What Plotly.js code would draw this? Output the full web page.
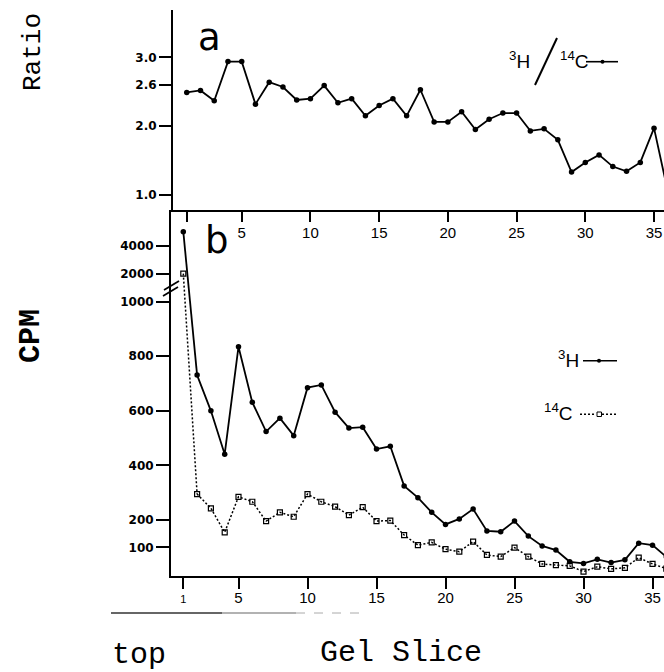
<!DOCTYPE html>
<html>
<head>
<meta charset="utf-8">
<script src="https://cdn.plot.ly/plotly-3.0.1.min.js"></script>
<style>
html,body{margin:0;padding:0;overflow:hidden;background:#fff;}
#chart{width:720px;height:672px;}
</style>
</head>
<body>
<div id="chart"></div>
<script>
// ---- data ----
const slices = [1,2,3,4,5,6,7,8,9,10,11,12,13,14,15,16,17,18,19,20,21,22,23,24,25,26,27,28,29,30,31,32,33,34,35,36];
const ratio = [2.49,2.52,2.37,2.94,2.94,2.32,2.64,2.57,2.38,2.40,2.59,2.34,2.40,2.15,2.30,2.40,2.15,2.53,2.06,2.06,2.21,1.95,2.10,2.19,2.19,1.93,1.96,1.80,1.33,1.47,1.58,1.41,1.34,1.47,1.97,1.05];
const cpmH3 = [5650,731,600,441,835,631,524,573,509,685,695,595,537,540,460,470,325,282,228,184,204,240,160,157,196,141,105,90,47,41,56,44,54,115,108,65];
const cpmC14 = [2000,295,243,155,285,267,196,228,212,295,267,249,218,247,196,198,145,108,118,93,84,121,72,66,99,66,39,35,32,11,29,21,25,62,39,22];

const ratioTicks = [1.0, 2.0, 2.6, 3.0];
const ratioTickText = ['1.0', '2.0', '2.6', '3.0'];
const cpmHighTicks = [2000, 4000];
const cpmLowTicks = [100, 200, 400, 600, 800, 1000];
const topSliceTicks = [5, 10, 15, 20, 25, 30, 35];
const topSliceMinor = [1];
const bottomSliceTicks = [1, 5, 10, 15, 20, 25, 30, 35];
const bottomSliceText = ['<span style="font-size:11px">1</span>', '5', '10', '15', '20', '25', '30', '35'];

// ---- layout helpers (pixel -> paper) ----
const W = 720, H = 672, L = 171;
const px = v => (v - L) / (W - L);
const py = v => 1 - v / H;

const black = '#000';
const tickFontY = {family: 'DejaVu Sans', size: 12, weight: 'bold', color: black};
const tickFontX = {family: 'Liberation Sans, Arial, sans-serif', size: 15, color: black};

const axisBase = {showgrid: false, zeroline: false, showline: true, linecolor: black, linewidth: 2,
                  ticks: 'outside', tickcolor: black, tickwidth: 2};

const layout = {
  width: W, height: H,
  margin: {l: L, r: 0, t: 0, b: 0},
  paper_bgcolor: '#fff', plot_bgcolor: 'rgba(0,0,0,0)',
  showlegend: false,
  xaxis: Object.assign({}, axisBase, {domain: [px(173), 1], range: [0.0, 39.8], anchor: 'y',
    tickmode: 'array', tickvals: topSliceTicks, ticklen: 10, tickfont: tickFontX, ticklabelstandoff: -2,
    minor: {tickmode: 'array', tickvals: topSliceMinor, ticks: 'outside', ticklen: 10, tickwidth: 2, tickcolor: black, showgrid: false}}),
  yaxis: Object.assign({}, axisBase, {domain: [py(210), py(10)], range: [0.777, 3.692], anchor: 'x',
    tickmode: 'array', tickvals: ratioTicks, ticktext: ratioTickText, ticklen: 12, tickfont: tickFontY}),
  xaxis2: Object.assign({}, axisBase, {domain: [0, 1], range: [0.109, 39.89], anchor: 'y3',
    tickmode: 'array', tickvals: bottomSliceTicks, ticktext: bottomSliceText, ticklen: 11, tickfont: tickFontX, ticklabelstandoff: -4}),
  yaxis2: Object.assign({}, axisBase, {domain: [py(288), py(210)], type: 'log', range: [3.147, 3.985], anchor: 'x2',
    tickmode: 'array', tickvals: cpmHighTicks, ticktext: cpmHighTicks.map(String), ticklen: 13, tickfont: tickFontY}),
  yaxis3: Object.assign({}, axisBase, {domain: [py(576), py(288)], range: [-5.1, 1050], anchor: 'x2',
    tickmode: 'array', tickvals: cpmLowTicks, ticktext: cpmLowTicks.map(String), ticklen: 13, tickfont: tickFontY}),
  annotations: [],
  shapes: []
};

// Bridge axes: a hidden linear axis spanning the broken CPM axis, so the segment that crosses
// the break (slice 1 -> slice 2) is a straight line between the two library-placed points.
function fracOf(axis, v) {
  const d = axis.domain, r = axis.range;
  const t = axis.type === 'log' ? Math.log10(v) : v;
  return d[0] + (t - r[0]) / (r[1] - r[0]) * (d[1] - d[0]);
}
function bridgeAxis(a, b) {
  const fa = fracOf(layout.yaxis2, a), fb = fracOf(layout.yaxis3, b);
  const s = (a - b) / (fa - fb);
  const d = [layout.yaxis3.domain[0], layout.yaxis2.domain[1]];
  const lo = b - (fb - d[0]) * s;
  const hi = lo + (d[1] - d[0]) * s;
  return {domain: d, range: [lo, hi], anchor: 'x2', visible: false, showgrid: false, zeroline: false};
}
layout.yaxis4 = bridgeAxis(cpmH3[0], cpmH3[1]);
layout.yaxis5 = bridgeAxis(cpmC14[0], cpmC14[1]);

const hLine = {color: black, width: 1.8};
const hMarker = {symbol: 'circle', size: 5.5, color: black};
const cLine = {color: black, width: 1.5, dash: '2px,2px'};
const cMarker = {symbol: 'square-open', size: 5, color: black, line: {width: 1.2, color: black}};

const traces = [
  {x: slices, y: ratio, xaxis: 'x', yaxis: 'y', mode: 'lines+markers', line: hLine, marker: hMarker, name: '3H/14C'},
  // 3H
  {x: slices.slice(0, 2), y: cpmH3.slice(0, 2), xaxis: 'x2', yaxis: 'y4', mode: 'lines', line: hLine, name: '3H', hoverinfo: 'skip'},
  {x: slices.slice(0, 1), y: cpmH3.slice(0, 1), xaxis: 'x2', yaxis: 'y2', mode: 'markers', marker: hMarker, name: '3H'},
  {x: slices.slice(1), y: cpmH3.slice(1), xaxis: 'x2', yaxis: 'y3', mode: 'lines+markers', line: hLine, marker: hMarker, name: '3H'},
  // 14C
  {x: slices.slice(0, 2), y: cpmC14.slice(0, 2), xaxis: 'x2', yaxis: 'y5', mode: 'lines', line: cLine, name: '14C', hoverinfo: 'skip'},
  {x: slices.slice(0, 1), y: cpmC14.slice(0, 1), xaxis: 'x2', yaxis: 'y2', mode: 'markers', marker: cMarker, name: '14C'},
  {x: slices.slice(1), y: cpmC14.slice(1), xaxis: 'x2', yaxis: 'y3', mode: 'lines+markers', line: cLine, marker: cMarker, name: '14C'}
];

function ann(text, x, y, font, extra) {
  layout.annotations.push(Object.assign({text: text, x: px(x), y: py(y), xref: 'paper', yref: 'paper',
    showarrow: false, xanchor: 'center', yanchor: 'middle', font: font}, extra || {}));
}
const mono = {family: 'Liberation Mono, Courier New, monospace', size: 26, color: black};
ann('Ratio', 33, 52, mono, {textangle: -90});
ann('CPM', 31, 336, Object.assign({}, mono, {size: 30, weight: 'bold'}), {textangle: -90});
ann('top', 139, 655, Object.assign({}, mono, {size: 30}));
ann('Gel Slice', 401, 653, Object.assign({}, mono, {size: 30}));
const panelFont = {family: 'DejaVu Sans, sans-serif', size: 37, color: black};
ann('a', 209, 37, panelFont);
ann('b', 217, 240, panelFont);

// legend texts
const legFont = {family: 'Liberation Sans, Arial, sans-serif', size: 19, color: black};
ann('<sup>3</sup>H', 532, 60, legFont, {xanchor: 'right'});
ann('<sup>14</sup>C', 558, 60, legFont, {xanchor: 'left'});
ann('<sup>3</sup>H', 581, 359, legFont, {xanchor: 'right'});
ann('<sup>14</sup>C', 575, 412, legFont, {xanchor: 'right'});

// legend sample lines
function seg(x0, y0, x1, y1, w, dash, color) {
  layout.shapes.push({type: 'line', xref: 'paper', yref: 'paper', x0: px(x0), y0: py(y0), x1: px(x1), y1: py(y1),
    line: {color: color || black, width: w, dash: dash || 'solid'}});
}
seg(535, 85, 557, 38, 2);  // big slash of 3H/14C
seg(586, 61.7, 618, 61.7, 1.6);
layout.shapes.push({type: 'circle', xref: 'paper', yref: 'paper', x0: px(600.5), x1: px(604.5), y0: py(63.7), y1: py(59.7), fillcolor: black, line: {width: 0}});
seg(583, 360.7, 617, 360.7, 1.6);
layout.shapes.push({type: 'circle', xref: 'paper', yref: 'paper', x0: px(597), x1: px(601), y0: py(362.7), y1: py(358.7), fillcolor: black, line: {width: 0}});
seg(580, 414.3, 596, 414.3, 1.4, '2px,2px');
seg(602, 414.3, 618, 414.3, 1.4, '2px,2px');
layout.shapes.push({type: 'rect', xref: 'paper', yref: 'paper', x0: px(597), x1: px(601.5), y0: py(416.5), y1: py(412), fillcolor: 'rgba(0,0,0,0)', line: {width: 1, color: black}});

// axis break marks
seg(163, 296, 178, 287, 1.8);
seg(164, 290, 179, 281, 1.8);

// faint rule under the bottom axis
seg(111, 613, 222, 613, 1.4, 'solid', '#333');
seg(222, 613, 296, 613, 1.2, 'solid', '#666');
seg(296, 613, 365, 613, 1, 'dash', '#aaa');

Plotly.newPlot('chart', traces, layout, {displayModeBar: false, staticPlot: true});
</script>
</body>
</html>
